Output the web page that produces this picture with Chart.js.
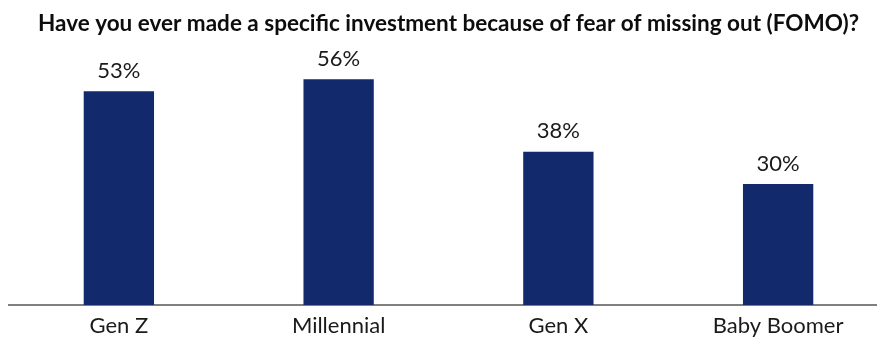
<!DOCTYPE html>
<html>
<head>
<meta charset="utf-8">
<script src="https://cdn.jsdelivr.net/npm/chart.js@4/dist/chart.umd.min.js"></script>
<style>
    html, body { margin: 0; padding: 0; background: #fff; overflow: hidden; }
    #wrap { width: 898px; height: 337px; }
</style>
</head>
<body>
<div id="wrap"><canvas id="fomoChart" width="898" height="337"></canvas></div>
<script>
const generations = ['Gen Z', 'Millennial', 'Gen X', 'Baby Boomer'];
const fomoShare = [53, 56, 38, 30];
const chartTitle = 'Have you ever made a specific investment because of fear of missing out (FOMO)?';

// writes "53%" etc. above each bar
const valueLabels = {
    id: 'valueLabels',
    afterDatasetsDraw(chart) {
        const ctx = chart.ctx;
        const meta = chart.getDatasetMeta(0);
        ctx.save();
        ctx.font = '22px Lato, sans-serif';
        ctx.fillStyle = '#1a1a1a';
        ctx.textAlign = 'center';
        ctx.textBaseline = 'alphabetic';
        meta.data.forEach((bar, i) => {
            ctx.fillText(fomoShare[i] + '%', bar.x, bar.y - 13.5);
        });
        ctx.restore();
    }
};

new Chart(document.getElementById('fomoChart').getContext('2d'), {
    type: 'bar',
    data: {
        labels: generations,
        datasets: [{
            data: fomoShare,
            backgroundColor: '#12296b',
            barPercentage: 0.64,
            categoryPercentage: 0.5
        }]
    },
    options: {
        responsive: false,
        animation: false,
        layout: { padding: { left: 9, right: 10, top: 0, bottom: 0 } },
        plugins: {
            legend: { display: false },
            tooltip: { enabled: false },
            title: {
                display: true,
                text: chartTitle,
                color: '#0d0d0d',
                font: { family: 'Lato, sans-serif', size: 22.5, weight: 'bold', lineHeight: 1.2 },
                padding: { top: 10.5, bottom: 25.5 }
            }
        },
        scales: {
            x: {
                grid: { display: false, drawTicks: false },
                border: { display: true, color: '#7f7f7f', width: 2 },
                ticks: {
                    color: '#1a1a1a',
                    padding: 10,
                    font: { family: 'Lato, sans-serif', size: 22, lineHeight: 1.0 }
                },
                // keep the label strip a fixed height under the axis line
                afterFit(scale) {
                    scale.height = 32;
                }
            },
            y: {
                display: false,
                min: 0,
                max: 60
            }
        }
    },
    plugins: [valueLabels]
});
</script>
</body>
</html>
